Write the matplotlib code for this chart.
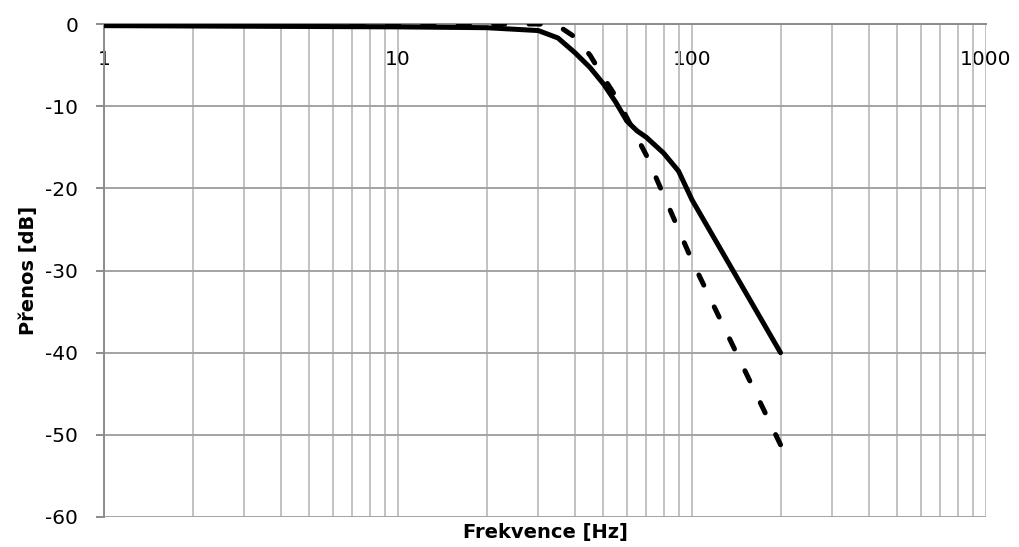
import matplotlib
matplotlib.use("Agg")
import matplotlib.pyplot as plt
from matplotlib.ticker import LogLocator, FixedLocator, NullFormatter

# Data
freq_solid = [1, 10, 20, 30, 35, 40, 45, 50, 55, 60, 65, 70, 80, 90, 100, 200]
gain_solid = [-0.2, -0.35, -0.45, -0.8, -1.7, -3.5, -5.3, -7.3, -9.5, -11.8, -13.0, -13.8, -15.7, -17.9, -21.4, -40.0]

freq_dashed = [1, 10, 20, 30, 35, 40, 45, 50, 55, 60, 70, 80, 90, 100, 200]
gain_dashed = [0.0, 0.0, 0.0, 0.0, -0.2, -1.6, -3.8, -6.5, -8.8, -11.4, -16.0, -20.8, -25.0, -28.8, -51.2]

x_ticks = [1, 10, 100, 1000]
x_tick_labels = ["1", "10", "100", "1000"]
y_ticks = [0, -10, -20, -30, -40, -50, -60]
y_tick_labels = ["0", "-10", "-20", "-30", "-40", "-50", "-60"]

plt.rcParams['font.family'] = ['DejaVu Sans']
plt.rcParams['lines.scale_dashes'] = False

fig = plt.figure(figsize=(10.2, 5.47), dpi=100)
ax = fig.add_axes([104/1020, 30/547, 882/1020, 493/547])

ax.set_xscale('log')
ax.set_xlim(1, 1000)
ax.set_ylim(-60, 0)

# grid
ax.xaxis.set_major_locator(FixedLocator(x_ticks))
ax.xaxis.set_minor_locator(LogLocator(base=10, subs=range(2, 10)))
ax.xaxis.set_minor_formatter(NullFormatter())
ax.set_xticklabels(x_tick_labels)
ax.set_yticks(y_ticks)
ax.set_yticklabels(y_tick_labels)

ax.grid(True, which='major', axis='x', color='#c2c2c2', linewidth=1.4)
ax.grid(True, which='minor', axis='x', color='#c2c2c2', linewidth=1.4)
ax.grid(True, which='major', axis='y', color='#a3a3a3', linewidth=1.4)
ax.set_axisbelow(True)

ax.plot(freq_solid, gain_solid, color='black', linewidth=3.6,
        solid_joinstyle='round', solid_capstyle='round', zorder=3)
ax.plot(freq_dashed, gain_dashed, color='black', linewidth=3.6,
        linestyle=(0, (8.1, 17.4)), dash_capstyle='round',
        dash_joinstyle='round', zorder=4)

# spines: x axis crosses at y = 0
for s in ['top', 'right']:
    ax.spines[s].set_visible(False)
ax.spines['bottom'].set_position(('data', 0))
ax.spines['bottom'].set_color('#8c8c8c')
ax.spines['bottom'].set_linewidth(1.4)
ax.spines['left'].set_color('#8c8c8c')
ax.spines['left'].set_linewidth(1.4)
ax.spines['bottom'].set_zorder(2)

ax.tick_params(axis='x', which='both', length=0, pad=19, labelsize=14.5)
ax.tick_params(axis='y', which='major', length=6, width=1.4, color='#8c8c8c',
               pad=12.5, labelsize=14.5, direction='out')

ax.set_xlabel('Frekvence [Hz]', fontsize=14, fontweight='bold')
ax.set_ylabel('Přenos [dB]', fontsize=14, fontweight='bold')
ax.xaxis.set_label_coords(0.5, -0.012)
ax.yaxis.set_label_coords(-0.075, 0.5)

fig.savefig('out.png', dpi=100)
